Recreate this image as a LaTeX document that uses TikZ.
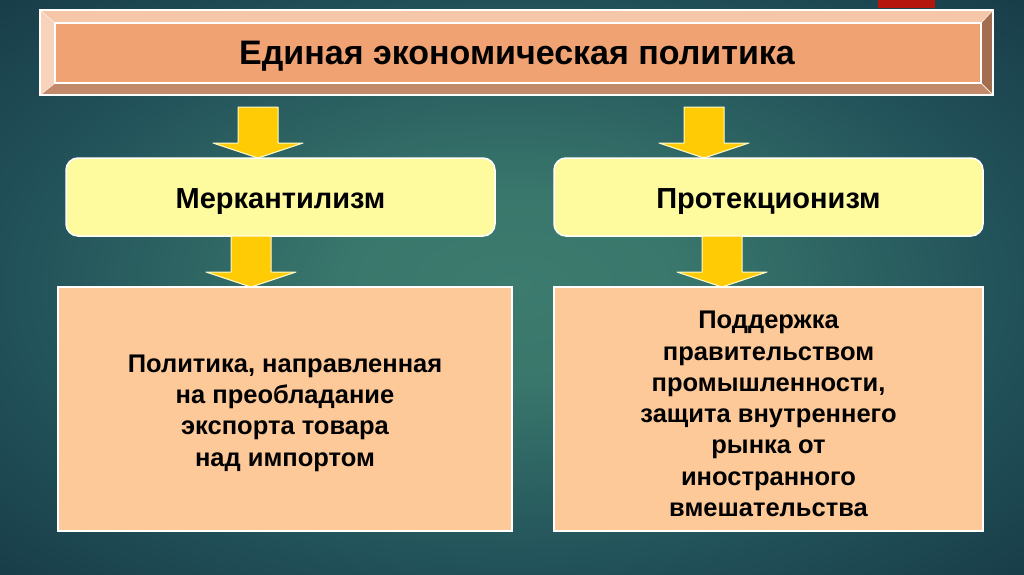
\documentclass[tikz,border=0pt]{standalone}
\usepackage{fontspec}
\setmainfont{Liberation Sans}
\usetikzlibrary{calc}
\definecolor{bgin}{HTML}{3C7B6E}
\definecolor{bgmid}{HTML}{22525A}
\definecolor{bgout}{HTML}{12313F}
\definecolor{titleface}{HTML}{F0A273}
\definecolor{bevtop}{HTML}{F6C6A8}
\definecolor{bevleft}{HTML}{F8D2BB}
\definecolor{bevright}{HTML}{A36D4F}
\definecolor{bevbottom}{HTML}{C2896A}
\definecolor{boxyellow}{HTML}{FEFB9F}
\definecolor{boxpeach}{HTML}{FDC998}
\definecolor{arrowgold}{HTML}{FFCB05}
\definecolor{cornerred}{HTML}{B5170F}
\pgfdeclareradialshading{bgglow}{\pgfpoint{0bp}{0bp}}{color(0bp)=(bgin); color(8bp)=(bgin!90!bgmid); color(24bp)=(bgmid); color(42bp)=(bgout); color(75bp)=(bgout)}
\tikzset{
  yellowbox/.style={draw=white, line width=1.5pt, fill=boxyellow, rounded corners=12pt,
    minimum width=429pt, minimum height=78pt, text height=23pt, text depth=0pt,
    font=\fontsize{29}{33}\selectfont\bfseries},
  peachbox/.style={draw=white, line width=1.5pt, fill=boxpeach, minimum height=244pt},
  peachtext/.style={align=center, font=\fontsize{25.5}{31.3}\selectfont\bfseries},
  downarrow/.pic={
    \filldraw[fill=arrowgold, draw=white!80!yellow, line width=1pt, line join=round]
    (-20,0) -- (20,0) -- (20,36) -- (45,36) -- (0,51) -- (-45,36) -- (-20,36) -- cycle;}
}
\begin{document}
\begin{tikzpicture}[x=1pt, y=-1pt]
\useasboundingbox (0,0) rectangle (1024,574);
\shade[shading=bgglow] (0,0) rectangle (1024,574);
\fill[cornerred] (878,0) rectangle (935,8);
% title frame
\fill[bevtop] (40,10) -- (993,10) -- (981,23) -- (55,23) -- cycle;
\fill[bevleft] (40,10) -- (55,23) -- (55,83) -- (40,95) -- cycle;
\fill[bevright] (993,10) -- (993,95) -- (981,83) -- (981,23) -- cycle;
\fill[bevbottom] (40,95) -- (55,83) -- (981,83) -- (993,95) -- cycle;
\fill[titleface] (55,23) rectangle (981,83);
\draw[white!75!titleface, line width=0.8pt] (40,10) -- (55,23) (993,10) -- (981,23) (40,95) -- (55,83) (993,95) -- (981,83);
\draw[white, line width=2pt] (40,10) rectangle (993,95);
\draw[white, line width=1.5pt] (55,23) rectangle (981,83);
\node[font=\fontsize{34}{38}\selectfont\bfseries] (title) at (517,56) {Единая экономическая политика};

\pic at (258,107) {downarrow};
\pic at (704,107) {downarrow};

\node[yellowbox] (merc) at (280.5,197) {Меркантилизм};
\node[yellowbox] (prot) at (768.5,197) {Протекционизм};

\pic at (251,236) {downarrow};
\pic at (722,236) {downarrow};

\node[peachbox, minimum width=454pt] (mercdef) at (285,409) {};
\node[peachbox, minimum width=429pt] (protdef) at (768.5,409) {};
\node[peachtext] (merctext) at ([yshift=-4pt]mercdef.center)
  {Политика, направленная\\на преобладание\\экспорта товара\\над импортом};
\node[peachtext] (prottext) at ([yshift=-5pt]protdef.center)
  {Поддержка\\правительством\\промышленности,\\защита внутреннего\\рынка от\\иностранного\\вмешательства};
\end{tikzpicture}
\end{document}
